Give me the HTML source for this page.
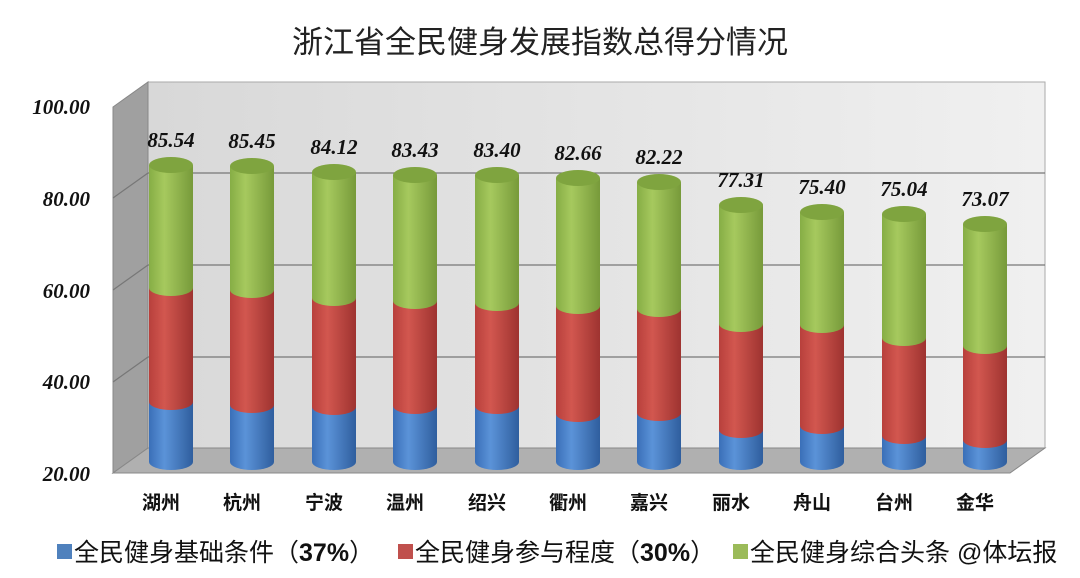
<!DOCTYPE html>
<html><head><meta charset="utf-8"><style>body{margin:0;background:#fff}svg{display:block}</style></head><body>
<svg width="1080" height="578" viewBox="0 0 1080 578" xmlns="http://www.w3.org/2000/svg">
<defs>
<linearGradient id="gb" x1="0" x2="1"><stop offset="0" stop-color="#3a6fb8"/><stop offset="0.35" stop-color="#5b93d8"/><stop offset="1" stop-color="#2f5e9e"/></linearGradient>
<linearGradient id="gr" x1="0" x2="1"><stop offset="0" stop-color="#b8403c"/><stop offset="0.35" stop-color="#d2574f"/><stop offset="1" stop-color="#9e3330"/></linearGradient>
<linearGradient id="gg" x1="0" x2="1"><stop offset="0" stop-color="#86ad45"/><stop offset="0.35" stop-color="#a6c95e"/><stop offset="1" stop-color="#779a3a"/></linearGradient>
<linearGradient id="wall" x1="0" x2="1"><stop offset="0" stop-color="#d8d8d8"/><stop offset="1" stop-color="#f0f0f0"/></linearGradient>
</defs>
<text x="540" y="53" text-anchor="middle" font-family="Liberation Sans, Noto Sans CJK SC, sans-serif" font-size="31" fill="#222">浙江省全民健身发展指数总得分情况</text>
<polygon points="148,82 1045,82 1045,448 148,448" fill="url(#wall)" stroke="#aaa"/>
<polygon points="113,107 148,82 148,448 113,473" fill="#a0a0a0" stroke="#888"/>
<polygon points="113,473 148,448 1045,448 1010,473" fill="#b0b0b0" stroke="#888"/>
<g stroke="#777" stroke-width="1.2">
<line x1="148" y1="173" x2="1045" y2="173"/><line x1="148" y1="265" x2="1045" y2="265"/><line x1="148" y1="357" x2="1045" y2="357"/>
<line x1="113" y1="198" x2="148" y2="173"/><line x1="113" y1="290" x2="148" y2="265"/><line x1="113" y1="382" x2="148" y2="357"/>
</g>
<g font-family="Liberation Serif, serif" font-style="italic" font-weight="bold" font-size="21" fill="#111" text-anchor="end">
<text x="90" y="114">100.00</text><text x="90" y="206">80.00</text><text x="90" y="298">60.00</text><text x="90" y="389">40.00</text><text x="90" y="481">20.00</text>
</g>
<g font-family="Liberation Serif, serif" font-style="italic" font-weight="bold" font-size="21" fill="#111" text-anchor="middle">
<g transform="translate(171,0)"><ellipse cy="462" rx="22" ry="8" fill="url(#gb)"/><rect x="-22" y="402" width="44" height="60" fill="url(#gb)"/><ellipse cy="402" rx="22" ry="8" fill="url(#gr)"/><rect x="-22" y="288" width="44" height="114" fill="url(#gr)"/><ellipse cy="288" rx="22" ry="8" fill="url(#gg)"/><rect x="-22" y="165" width="44" height="123" fill="url(#gg)"/><ellipse cy="165" rx="22" ry="8" fill="#7fa43f"/><text y="147">85.54</text></g>
<g transform="translate(252,0)"><ellipse cy="462" rx="22" ry="8" fill="url(#gb)"/><rect x="-22" y="405" width="44" height="57" fill="url(#gb)"/><ellipse cy="405" rx="22" ry="8" fill="url(#gr)"/><rect x="-22" y="290" width="44" height="115" fill="url(#gr)"/><ellipse cy="290" rx="22" ry="8" fill="url(#gg)"/><rect x="-22" y="166" width="44" height="124" fill="url(#gg)"/><ellipse cy="166" rx="22" ry="8" fill="#7fa43f"/><text y="148">85.45</text></g>
<g transform="translate(334,0)"><ellipse cy="462" rx="22" ry="8" fill="url(#gb)"/><rect x="-22" y="407" width="44" height="55" fill="url(#gb)"/><ellipse cy="407" rx="22" ry="8" fill="url(#gr)"/><rect x="-22" y="298" width="44" height="109" fill="url(#gr)"/><ellipse cy="298" rx="22" ry="8" fill="url(#gg)"/><rect x="-22" y="172" width="44" height="126" fill="url(#gg)"/><ellipse cy="172" rx="22" ry="8" fill="#7fa43f"/><text y="154">84.12</text></g>
<g transform="translate(415,0)"><ellipse cy="462" rx="22" ry="8" fill="url(#gb)"/><rect x="-22" y="406" width="44" height="56" fill="url(#gb)"/><ellipse cy="406" rx="22" ry="8" fill="url(#gr)"/><rect x="-22" y="301" width="44" height="105" fill="url(#gr)"/><ellipse cy="301" rx="22" ry="8" fill="url(#gg)"/><rect x="-22" y="175" width="44" height="126" fill="url(#gg)"/><ellipse cy="175" rx="22" ry="8" fill="#7fa43f"/><text y="157">83.43</text></g>
<g transform="translate(497,0)"><ellipse cy="462" rx="22" ry="8" fill="url(#gb)"/><rect x="-22" y="406" width="44" height="56" fill="url(#gb)"/><ellipse cy="406" rx="22" ry="8" fill="url(#gr)"/><rect x="-22" y="303" width="44" height="103" fill="url(#gr)"/><ellipse cy="303" rx="22" ry="8" fill="url(#gg)"/><rect x="-22" y="175" width="44" height="128" fill="url(#gg)"/><ellipse cy="175" rx="22" ry="8" fill="#7fa43f"/><text y="157">83.40</text></g>
<g transform="translate(578,0)"><ellipse cy="462" rx="22" ry="8" fill="url(#gb)"/><rect x="-22" y="414" width="44" height="48" fill="url(#gb)"/><ellipse cy="414" rx="22" ry="8" fill="url(#gr)"/><rect x="-22" y="306" width="44" height="108" fill="url(#gr)"/><ellipse cy="306" rx="22" ry="8" fill="url(#gg)"/><rect x="-22" y="178" width="44" height="128" fill="url(#gg)"/><ellipse cy="178" rx="22" ry="8" fill="#7fa43f"/><text y="160">82.66</text></g>
<g transform="translate(659,0)"><ellipse cy="462" rx="22" ry="8" fill="url(#gb)"/><rect x="-22" y="413" width="44" height="49" fill="url(#gb)"/><ellipse cy="413" rx="22" ry="8" fill="url(#gr)"/><rect x="-22" y="309" width="44" height="104" fill="url(#gr)"/><ellipse cy="309" rx="22" ry="8" fill="url(#gg)"/><rect x="-22" y="182" width="44" height="127" fill="url(#gg)"/><ellipse cy="182" rx="22" ry="8" fill="#7fa43f"/><text y="164">82.22</text></g>
<g transform="translate(741,0)"><ellipse cy="462" rx="22" ry="8" fill="url(#gb)"/><rect x="-22" y="430" width="44" height="32" fill="url(#gb)"/><ellipse cy="430" rx="22" ry="8" fill="url(#gr)"/><rect x="-22" y="324" width="44" height="106" fill="url(#gr)"/><ellipse cy="324" rx="22" ry="8" fill="url(#gg)"/><rect x="-22" y="205" width="44" height="119" fill="url(#gg)"/><ellipse cy="205" rx="22" ry="8" fill="#7fa43f"/><text y="187">77.31</text></g>
<g transform="translate(822,0)"><ellipse cy="462" rx="22" ry="8" fill="url(#gb)"/><rect x="-22" y="426" width="44" height="36" fill="url(#gb)"/><ellipse cy="426" rx="22" ry="8" fill="url(#gr)"/><rect x="-22" y="325" width="44" height="101" fill="url(#gr)"/><ellipse cy="325" rx="22" ry="8" fill="url(#gg)"/><rect x="-22" y="212" width="44" height="113" fill="url(#gg)"/><ellipse cy="212" rx="22" ry="8" fill="#7fa43f"/><text y="194">75.40</text></g>
<g transform="translate(904,0)"><ellipse cy="462" rx="22" ry="8" fill="url(#gb)"/><rect x="-22" y="436" width="44" height="26" fill="url(#gb)"/><ellipse cy="436" rx="22" ry="8" fill="url(#gr)"/><rect x="-22" y="338" width="44" height="98" fill="url(#gr)"/><ellipse cy="338" rx="22" ry="8" fill="url(#gg)"/><rect x="-22" y="214" width="44" height="124" fill="url(#gg)"/><ellipse cy="214" rx="22" ry="8" fill="#7fa43f"/><text y="196">75.04</text></g>
<g transform="translate(985,0)"><ellipse cy="462" rx="22" ry="8" fill="url(#gb)"/><rect x="-22" y="440" width="44" height="22" fill="url(#gb)"/><ellipse cy="440" rx="22" ry="8" fill="url(#gr)"/><rect x="-22" y="346" width="44" height="94" fill="url(#gr)"/><ellipse cy="346" rx="22" ry="8" fill="url(#gg)"/><rect x="-22" y="224" width="44" height="122" fill="url(#gg)"/><ellipse cy="224" rx="22" ry="8" fill="#7fa43f"/><text y="206">73.07</text></g>
</g>
<g font-family="Liberation Sans, Noto Sans CJK SC, sans-serif" font-weight="bold" font-size="19" fill="#111" text-anchor="middle">
<text x="161" y="509">湖州</text><text x="242" y="509">杭州</text><text x="324" y="509">宁波</text><text x="405" y="509">温州</text><text x="487" y="509">绍兴</text><text x="568" y="509">衢州</text><text x="649" y="509">嘉兴</text><text x="731" y="509">丽水</text><text x="812" y="509">舟山</text><text x="894" y="509">台州</text><text x="975" y="509">金华</text>
</g>
<g font-family="Liberation Sans, Noto Sans CJK SC, sans-serif" font-size="25" fill="#111">
<rect x="57" y="544" width="15" height="15" fill="#4f81bd"/><text x="74" y="561">全民健身基础条件（<tspan font-weight="bold">37%</tspan>）</text>
<rect x="398" y="544" width="15" height="15" fill="#c0504d"/><text x="415" y="561">全民健身参与程度（<tspan font-weight="bold">30%</tspan>）</text>
<rect x="733" y="544" width="15" height="15" fill="#9bbb59"/><text x="750" y="561">全民健身综合头条 @体坛报</text>
</g>
</svg>
</body></html>
